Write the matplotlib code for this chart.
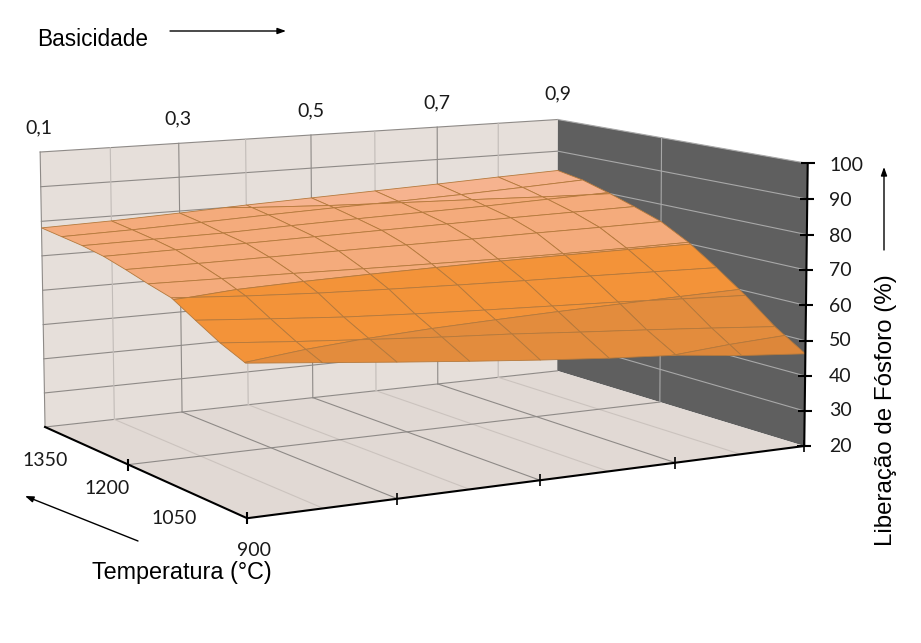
import matplotlib
matplotlib.use('Agg')
import matplotlib.pyplot as plt
from matplotlib.patches import FancyArrowPatch
from mpl_toolkits.mplot3d.art3d import Poly3DCollection

W, H = 921, 643

basicidade = [0.1, 0.2, 0.3, 0.4, 0.5, 0.6, 0.7, 0.8, 0.9]
temperatura = [1350, 1300, 1250, 1200, 1150, 1100, 1050, 1000, 950, 900]
liberacao = [
    [78.1, 78.6, 79.4, 80.3, 81.0, 81.7, 82.4, 83.2, 83.9],
    [77.4, 77.8, 78.4, 79.1, 79.7, 80.2, 80.8, 81.6, 82.5],
    [76.7, 76.9, 77.1, 77.7, 78.2, 78.6, 79.0, 79.6, 80.2],
    [75.6, 75.8, 76.0, 76.3, 76.6, 76.9, 77.2, 77.4, 77.6],
    [73.9, 73.9, 74.0, 74.1, 74.2, 74.3, 74.5, 74.6, 74.8],
    [72.0, 71.7, 71.4, 71.0, 70.7, 70.4, 70.3, 70.3, 70.4],
    [70.3, 69.0, 68.0, 67.3, 66.7, 66.2, 65.8, 65.3, 64.8],
    [66.5, 65.0, 63.6, 62.6, 61.8, 61.1, 60.4, 59.5, 58.7],
    [62.8, 61.2, 59.8, 58.5, 57.4, 56.0, 54.7, 53.3, 51.8],
    [59.9, 58.0, 56.1, 54.3, 52.6, 51.1, 49.9, 47.8, 46.3],
]
niveis = [0, 50, 60, 70, 80, 100]
cores = ['#DD873A', '#E38C3D', '#F39339', '#F4AB7C', '#F6B38F']

z_ticks = [20, 30, 40, 50, 60, 70, 80, 90, 100]
bas_major = [0.3, 0.5, 0.7]
bas_minor = [0.2, 0.4, 0.6, 0.8]
temp_meio = 1150

fig = plt.figure(figsize=(W/100, H/100), dpi=100)

# camera ajustada aos cantos da caixa
cx, cy, lado = 507.2, 187.6, 786.4
ax = fig.add_axes([(cx-lado/2)/W, (H-cy-lado/2)/H, lado/W, lado/H], projection='3d', computed_zorder=False)
ax.set_axis_off()
ax.patch.set_alpha(0)
ax.set_xlim(0.2502, 1.0502, view_margin=0)
ax.set_ylim(900, 1350, view_margin=0)
ax.set_zlim(52.4456, 132.4456, view_margin=0)
ax.view_init(elev=7.1285, azim=-120.7687, roll=-0.0519)
ax.set_proj_type('persp', focal_length=0.751)
ax.set_box_aspect((2.169, 1.662, 1))

X0, X1 = basicidade[0], basicidade[-1]
Y0, Y1 = temperatura[-1], temperatura[0]
Z0, Z1 = z_ticks[0], z_ticks[-1]

def painel(verts, cor):
    col = Poly3DCollection([verts], facecolors=cor, edgecolors='none', zorder=1)
    col.set_clip_on(False)
    ax.add_collection3d(col, autolim=False)

painel([(X0, Y1, Z0), (X1, Y1, Z0), (X1, Y1, Z1), (X0, Y1, Z1)], '#E6DFDA')
painel([(X1, Y1, Z0), (X1, Y0, Z0), (X1, Y0, Z1), (X1, Y1, Z1)], '#5F5F5F')
painel([(X0, Y0, Z0), (X1, Y0, Z0), (X1, Y1, Z0), (X0, Y1, Z0)], '#E1D9D4')

def linha(xs, ys, zs, cor, lw=0.8, zorder=2):
    ax.plot(xs, ys, zs, color=cor, lw=lw, zorder=zorder, clip_on=False)

# grades das paredes e do piso
for z in z_ticks:
    linha([X0, X1], [Y1, Y1], [z, z], '#8E8A87')
    if z > Z0:
        linha([X1, X1], [Y1, Y0], [z, z], '#A8A8A8')
for b in bas_major:
    linha([b, b], [Y1, Y1], [Z0, Z1], '#8E8A87')
    linha([b, b], [Y1, Y0], [Z0, Z0], '#8E8A87')
for b in bas_minor:
    linha([b, b], [Y1, Y1], [Z0, Z1], '#C2BCB8')
    linha([b, b], [Y1, Y0], [Z0, Z0], '#CBC3BE')
linha([X0, X0], [Y1, Y1], [Z0, Z1], '#8E8A87')
linha([X0, X1], [temp_meio, temp_meio], [Z0, Z0], '#8E8A87')
linha([X1, X1], [temp_meio, temp_meio], [Z0, Z1], '#A8A8A8')

def corta(poly, lo, hi):
    # recorta um poligono 3D entre dois niveis de z
    for nivel, sinal in ((lo, 1), (hi, -1)):
        novo = []
        for i in range(len(poly)):
            a, b = poly[i], poly[(i + 1) % len(poly)]
            da, db = sinal * (a[2] - nivel), sinal * (b[2] - nivel)
            if da >= 0:
                novo.append(a)
            if da * db < 0:
                t = da / (da - db)
                novo.append(tuple(a[k] + t * (b[k] - a[k]) for k in range(3)))
        poly = novo
        if not poly:
            break
    return poly

polys, faces = [], []
for i in range(len(temperatura) - 1):
    for j in range(len(basicidade) - 1):
        quad = [(basicidade[j + dj], temperatura[i + di], liberacao[i + di][j + dj])
                for di, dj in ((0, 0), (0, 1), (1, 1), (1, 0))]
        for k, cor in enumerate(cores):
            pedaco = corta(quad, niveis[k], niveis[k + 1])
            if len(pedaco) >= 3:
                polys.append(pedaco)
                faces.append(cor)
superficie = Poly3DCollection(polys, facecolors=faces, edgecolors='#B5793C', linewidths=0.6, zorder=3)
superficie.set_clip_on(False)
ax.add_collection3d(superficie, autolim=False)

# eixos pretos
linha([X0, X0], [Y1, Y0], [Z0, Z0], 'black', 1.5, 4)
linha([X0, X1], [Y0, Y0], [Z0, Z0], 'black', 1.5, 4)
linha([X1, X1], [Y0, Y0], [Z0, Z1], 'black', 1.5, 4)
ax.plot([X1] * len(z_ticks), [Y0] * len(z_ticks), z_ticks, ls='none', marker='_', ms=10, mew=1.5,
        color='black', zorder=5, clip_on=False)
ax.plot([X0, X0], [temp_meio, Y0], [Z0, Z0], ls='none', marker='|', ms=9, mew=1.5, color='black', zorder=5, clip_on=False)
ax.plot(bas_major + [X1], [Y0] * 4, [Z0] * 4, ls='none', marker='|', ms=9, mew=1.2, color='black', zorder=5, clip_on=False)

def texto(x, y, s, **kw):
    fig.text(x / W, 1 - y / H, s, **kw)

fonte = dict(family='Lato', fontsize=14, color='#1a1a1a', va='center')
for val, x, y in zip(['0,1', '0,3', '0,5', '0,7', '0,9'], [39, 178, 311, 437, 558], [128, 119, 111, 103, 94]):
    texto(x, y, val, ha='center', **fonte)
for val, x, y in zip(['1350', '1200', '1050', '900'], [45, 107, 174, 254], [461, 489, 519, 550]):
    texto(x, y, val, ha='center', **fonte)
for z, y in zip(z_ticks, [446, 411, 376, 341, 306, 271, 236, 201, 166]):
    texto(829, y, str(z), ha='left', **fonte)

titulo = dict(family='Liberation Sans', color='black', va='center')
texto(37, 40, 'Basicidade', ha='left', fontsize=16.3, **titulo)
texto(92, 572, 'Temperatura (°C)', ha='left', fontsize=16.8, **titulo)
texto(886, 410, 'Liberação de Fósforo (%)', ha='center', rotation=90, fontsize=17.4, **titulo)

def seta(x0, y0, x1, y1):
    fig.add_artist(FancyArrowPatch((x0 / W, 1 - y0 / H), (x1 / W, 1 - y1 / H), transform=fig.transFigure,
                                   arrowstyle='-|>,head_length=5,head_width=1.8', lw=1, color='black',
                                   shrinkA=0, shrinkB=0))

seta(170, 31, 286, 31)
seta(138, 541, 25, 496)
seta(884, 250, 884, 167)

fig.savefig('out.png', dpi=100)
